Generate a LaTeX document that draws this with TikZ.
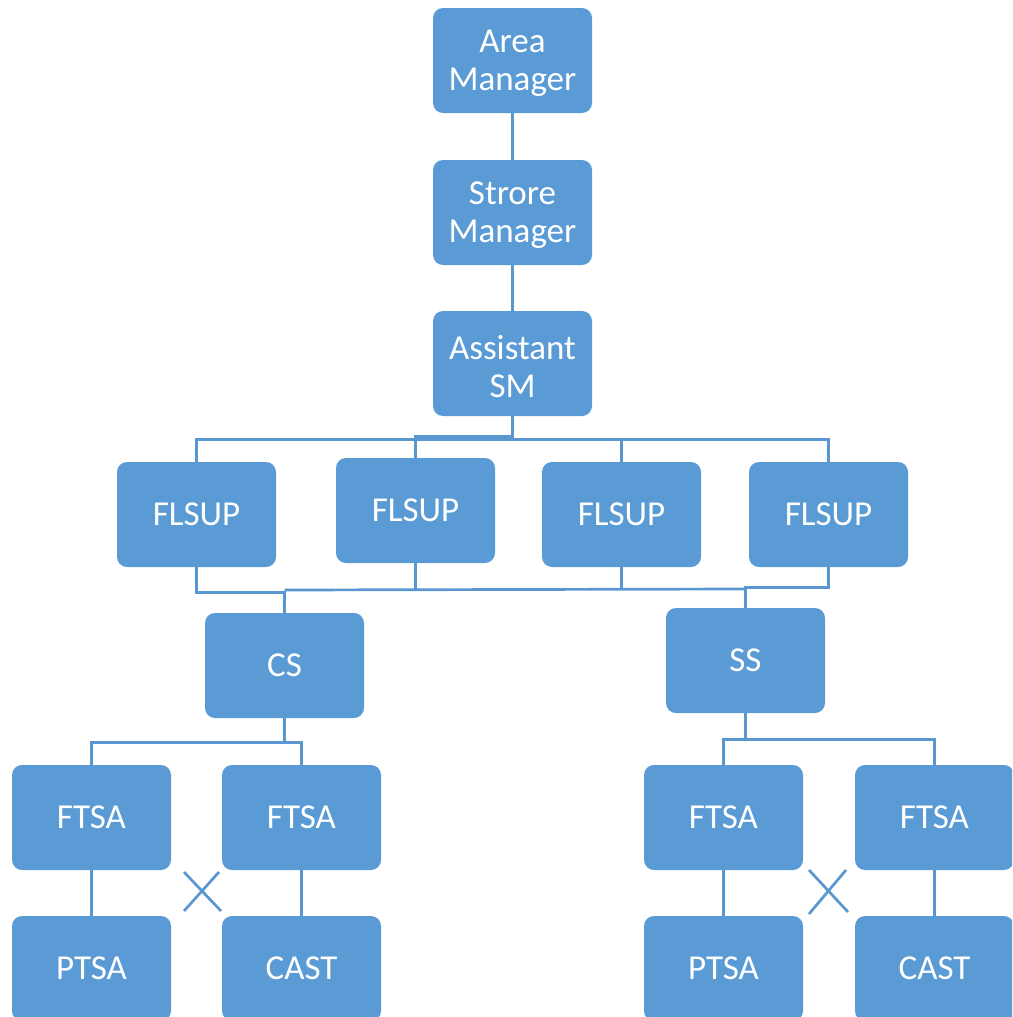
\documentclass[tikz,border=0pt]{standalone}
\usepackage{fontspec}
\setmainfont{Carlito}
\definecolor{boxblue}{HTML}{5B9BD5}
\definecolor{lineblue}{HTML}{5A96CF}
\begin{document}
\begin{tikzpicture}[x=1pt,y=-1pt,
  box/.style={draw=none, fill=boxblue, rounded corners=10pt, minimum width=159pt, minimum height=105pt,
    text=white, font=\fontsize{35}{38}\selectfont, align=center, inner sep=0pt},
  twoline/.style={label={[text=white, font=\fontsize{35}{38}\selectfont, align=center, yshift=-3pt]center:#1}},
  conn/.style={draw=lineblue, line width=2.7pt}]
\useasboundingbox (0,0) rectangle (1012,1017);
\clip (0,0) rectangle (1012,1017);
% nodes
\node[box, twoline={Area\\Manager}]       (am)  at (512.5,60.5)  {};
\node[box, twoline={Strore\\Manager}]     (sm)  at (512.5,212.5) {};
\node[box, twoline={Assistant\\SM}]       (asm) at (512.5,363.5) {};
\node[box] (f1)  at (196.5,514.5) {FLSUP};
\node[box] (f2)  at (415.5,510.5) {FLSUP};
\node[box] (f3)  at (621.5,514.5) {FLSUP};
\node[box] (f4)  at (828.5,514.5) {FLSUP};
\node[box] (cs)  at (284.5,665.5) {CS};
\node[box] (ss)  at (745.5,660.5) {SS};
\node[box] (t1)  at (91.5,817.5)  {FTSA};
\node[box] (t2)  at (301.5,817.5) {FTSA};
\node[box] (t3)  at (723.5,817.5) {FTSA};
\node[box] (t4)  at (934.5,817.5) {FTSA};
\node[box] (p1)  at (91.5,968.5)  {PTSA};
\node[box] (c1)  at (301.5,968.5) {CAST};
\node[box] (p2)  at (723.5,968.5) {PTSA};
\node[box] (c2)  at (934.5,968.5) {CAST};
% connectors
\draw[conn] (am.south) -- (sm.north);
\draw[conn] (sm.south) -- (asm.north);
\draw[conn] (asm.south) -- ++(0,20) -| (f2.north);
\draw[conn] (asm.south) -- ++(0,23) -| (f1.north);
\draw[conn] (asm.south) -- ++(0,23) -| (f3.north);
\draw[conn] (asm.south) -- ++(0,23) -| (f4.north);
\coordinate (busL) at (284.5,590);
\coordinate (busR) at (745.5,589);
\draw[conn] (f1.south) -- ++(0,25) -| (cs.north);
\draw[conn] (busL) -- (busR);
\draw[conn] (f2.south) -- (f2.south |- busL);
\draw[conn] (f3.south) -- (f3.south |- busL);
\draw[conn] (f4.south) -- ++(0,20) -| (ss.north);
\draw[conn] (cs.south) -- ++(0,24) -| (t1.north);
\draw[conn] (cs.south) -- ++(0,24) -| (t2.north);
\draw[conn] (ss.south) -- ++(0,26) -| (t3.north);
\draw[conn] (ss.south) -- ++(0,26) -| (t4.north);
\draw[conn] (t1.south) -- (p1.north);
\draw[conn] (t2.south) -- (c1.north);
\draw[conn] (t3.south) -- (p2.north);
\draw[conn] (t4.south) -- (c2.north);
% crosses
\draw[conn] (184,872) -- (221,911);
\draw[conn] (219,872) -- (184,911);
\draw[conn] (809,870) -- (848,912);
\draw[conn] (846,870) -- (809,914);
\end{tikzpicture}
\end{document}
